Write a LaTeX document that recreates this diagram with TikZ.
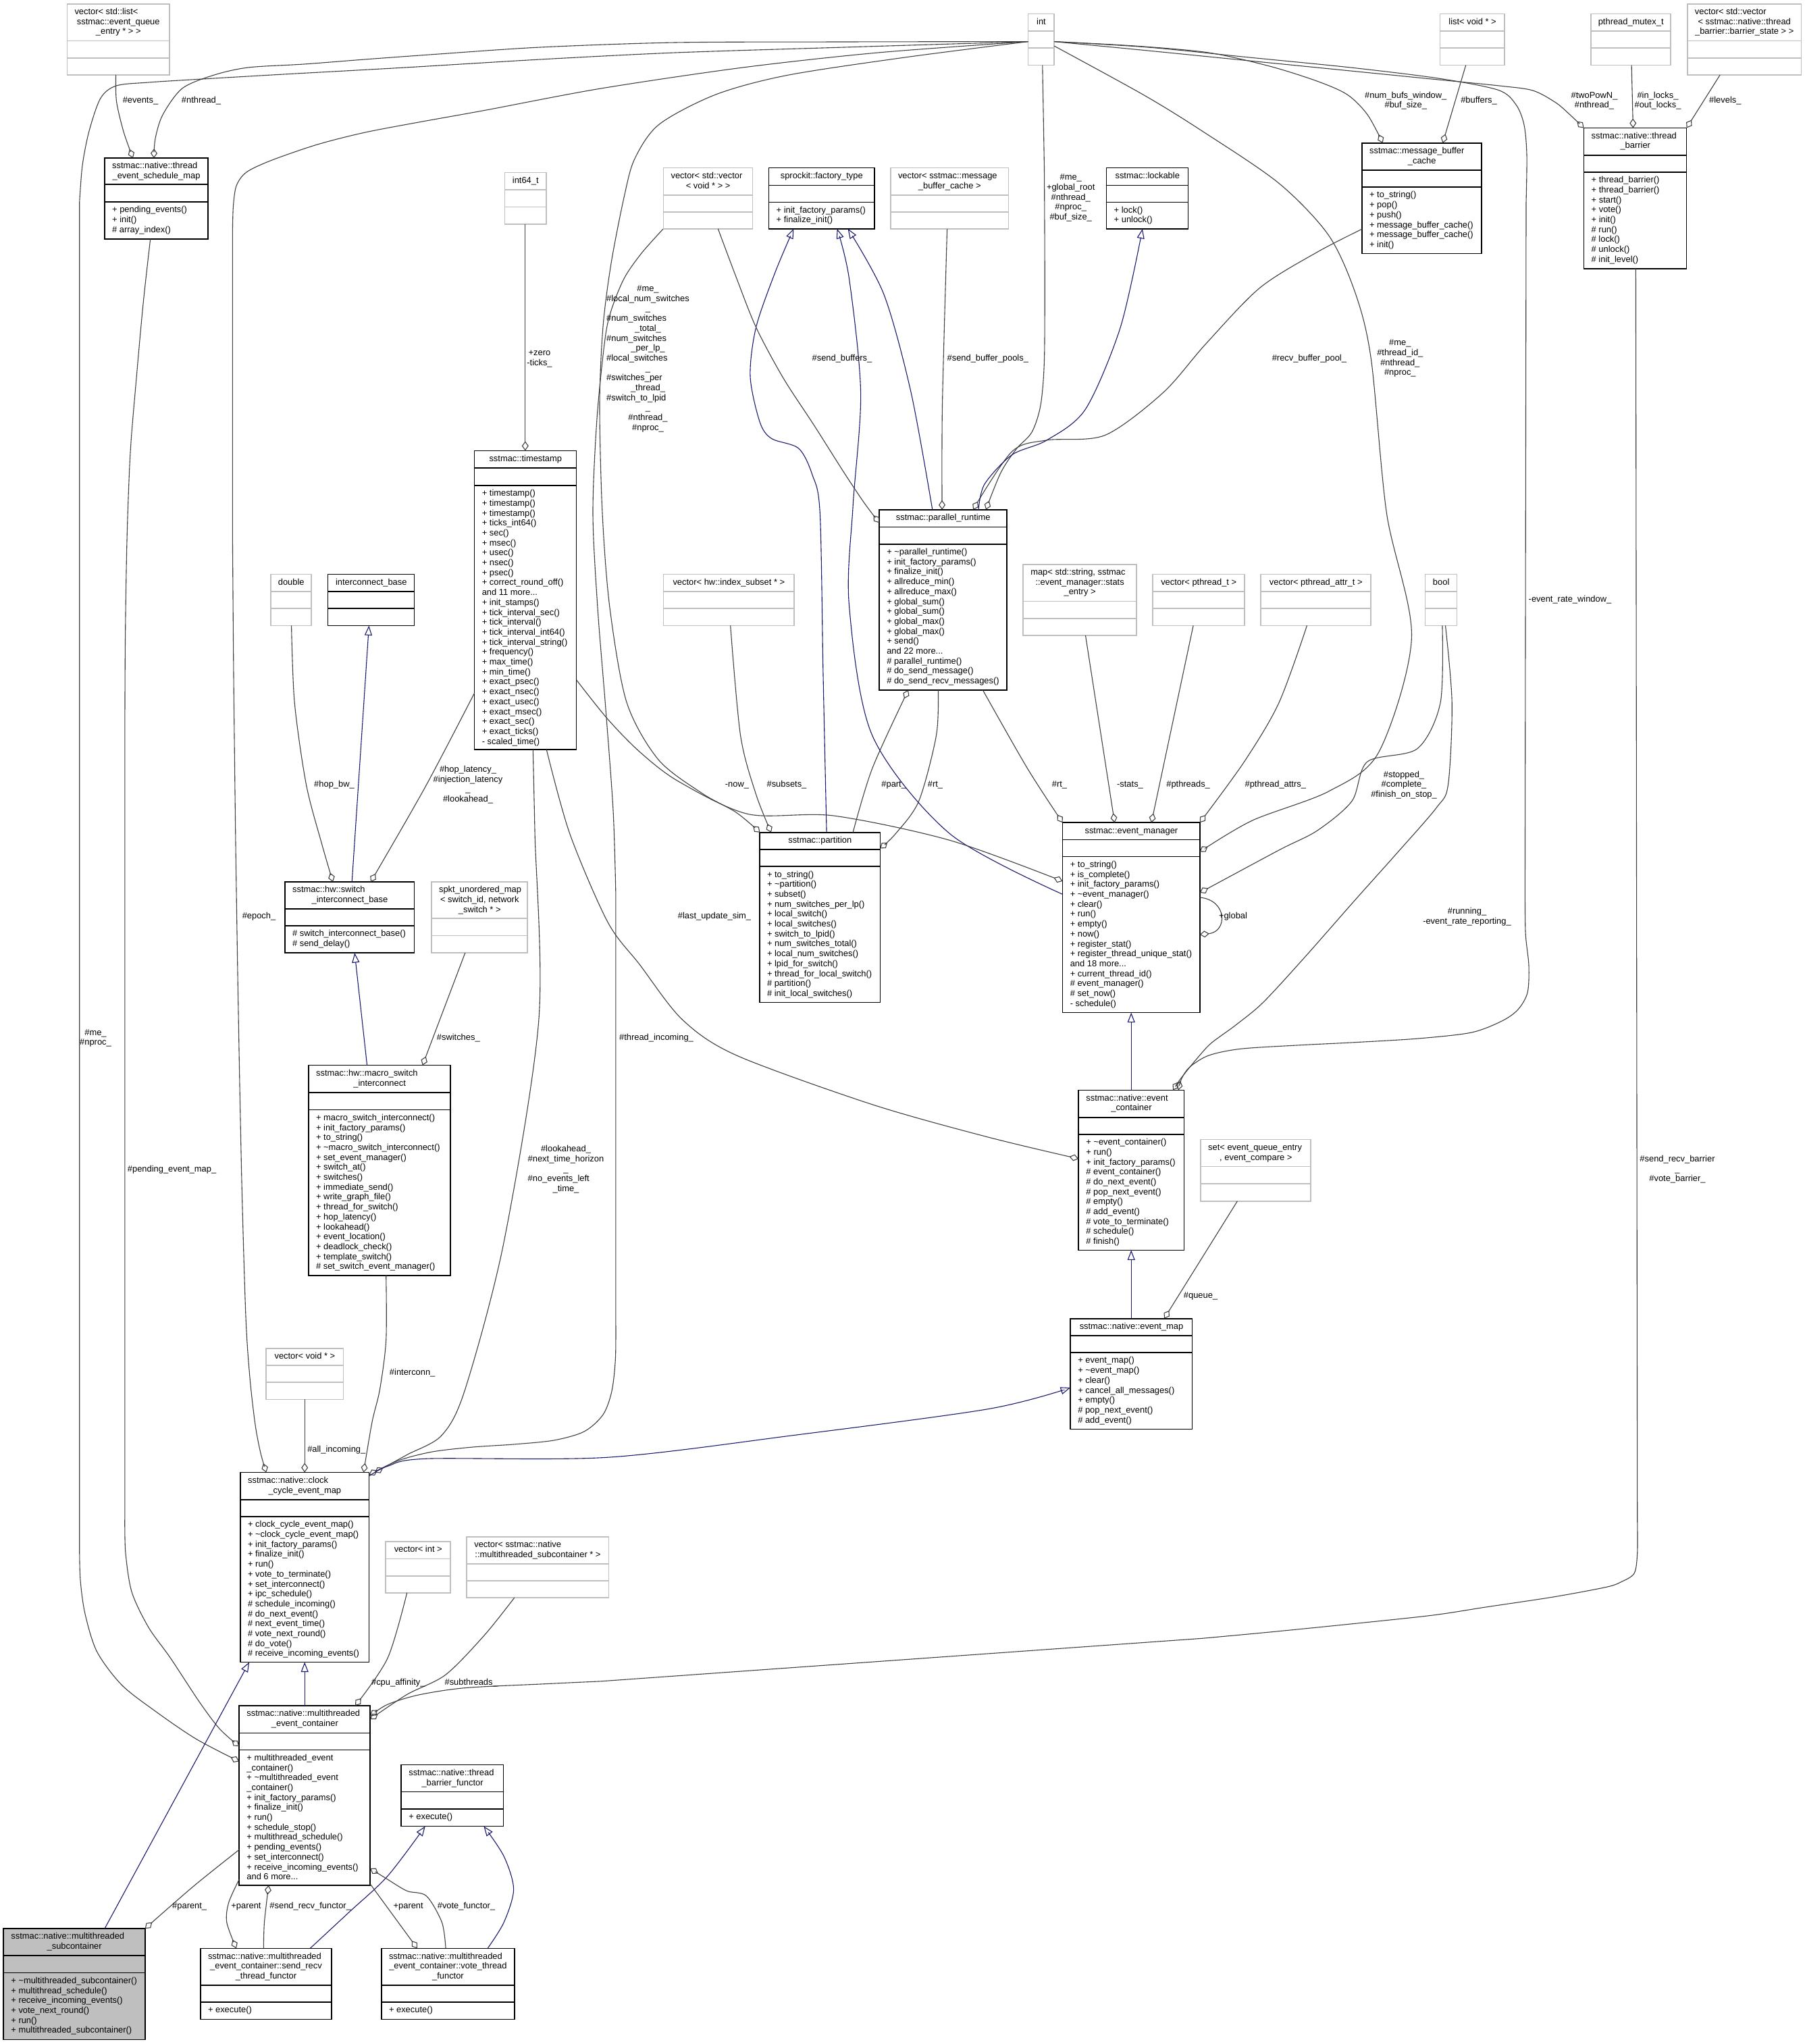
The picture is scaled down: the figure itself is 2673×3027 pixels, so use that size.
\documentclass[tikz,border=0pt]{standalone}
\usepackage{fontspec}
\setmainfont{Liberation Sans}
\usetikzlibrary{arrows.meta,fit}
\definecolor{egray}{RGB}{64,64,64}
\definecolor{mblue}{RGB}{25,25,112}
\definecolor{bgray}{RGB}{191,191,191}
\newcommand\ttlL[1]{\makebox[\clsW pt][l]{#1}}
\newcommand\ttlC[1]{\makebox[\clsW pt][c]{#1}}
\newcommand\lblL[1]{\multicolumn{1}{@{}l@{}}{#1}}
\newcommand\tldx{\textasciitilde}
\newcommand\umlcls[9]{%
  \node[#2, fit={(#3,#4) (#5,#8)}] (#1) {};
  \draw[#2, fill=none] (#3,#6) -- (#5,#6) (#3,#7) -- (#5,#7);
  \pgfmathsetmacro\clsW{#5-#3-22}%
  \node[txt, anchor=north west] (#1-t) at (#3+11,#4+5.3) {\begin{tabular}{@{}c@{}}#9\end{tabular}};%
}
\newcommand\umlmth[4]{\node[txt, anchor=north west] (#1-m) at (#2+11,#3+5.3) {\begin{tabular}{@{}l@{}}#4\end{tabular}};}
\newcommand\elbl[3]{\node[txt] (#1) at (#2) {\begin{tabular}{@{}c@{}}#3\end{tabular}};}
\tikzset{
  txt/.style={inner sep=0pt, font=\fontsize{12.9}{14.7}\selectfont},
  blk/.style={draw=black, line width=1.6pt, fill=white, inner sep=0pt},
  gry/.style={draw=bgray, line width=1.6pt, fill=white, inner sep=0pt},
  hil/.style={draw=black, line width=1.6pt, fill=bgray, inner sep=0pt},
  agg/.style={draw=egray, line width=1.1pt, -{Diamond[open, length=14pt, width=10pt]}},
  inh/.style={draw=mblue, line width=1.1pt, -{Triangle[open, length=14.5pt, width=11pt]}},
}
\begin{document}
\begin{tikzpicture}[x=1pt,y=-1pt]
\fill[white] (0,0) rectangle (2673,3027);
\useasboundingbox (0,0) rectangle (2673,3027);

% ---------------- boxes ----------------
\umlcls{veclist}{gry}{99.3}{5.8}{250.8}{60.6}{85.8}{111.0}{\ttlL{vector< std::list<}\\sstmac::event\_queue\\\_entry * > >}
\umlcls{tesm}{blk}{155.0}{234.1}{307.7}{272.9}{299.1}{353.8}{\ttlL{sstmac::native::thread}\\\_event\_schedule\_map}
\umlmth{tesm}{155.0}{299.1}{+ pending\_events()\\+ init()\\\# array\_index()}
\umlcls{int64}{gry}{747.4}{255.4}{808.8}{281.1}{306.3}{332.0}{\ttlC{int64\_t}}
\umlcls{tstamp}{blk}{702.6}{667.4}{853.6}{693.1}{718.8}{1110.1}{\ttlC{sstmac::timestamp}}
\umlmth{tstamp}{702.6}{718.8}{+ timestamp()\\+ timestamp()\\+ timestamp()\\+ ticks\_int64()\\+ sec()\\+ msec()\\+ usec()\\+ nsec()\\+ psec()\\+ correct\_round\_off()\\and 11 more...\\+ init\_stamps()\\+ tick\_interval\_sec()\\+ tick\_interval()\\+ tick\_interval\_int64()\\+ tick\_interval\_string()\\+ frequency()\\+ max\_time()\\+ min\_time()\\+ exact\_psec()\\+ exact\_nsec()\\+ exact\_usec()\\+ exact\_msec()\\+ exact\_sec()\\+ exact\_ticks()\\- scaled\_time()}
\umlcls{int}{gry}{1522.5}{20.4}{1561.0}{46.0}{71.3}{96.5}{\ttlC{int}}
\umlcls{vecvv}{gry}{982.4}{248.6}{1114.4}{288.9}{314.1}{338.8}{\ttlL{vector< std::vector}\\< void * > >}
\umlcls{factory}{blk}{1138.5}{248.6}{1294.7}{274.3}{299.5}{338.8}{\ttlC{sprockit::factory\_type}}
\umlmth{factory}{1138.5}{299.5}{+ init\_factory\_params()\\+ finalize\_init()}
\umlcls{vecmbc}{gry}{1318.8}{248.6}{1493.3}{288.9}{314.1}{338.8}{\ttlL{vector< sstmac::message}\\\_buffer\_cache >}
\umlcls{lockable}{blk}{1638.5}{248.6}{1759.6}{274.3}{299.5}{338.8}{\ttlC{sstmac::lockable}}
\umlmth{lockable}{1638.5}{299.5}{+ lock()\\+ unlock()}
\umlcls{prt}{blk}{1302.1}{754.8}{1491.0}{780.5}{805.7}{1021.9}{\ttlC{sstmac::parallel\_runtime}}
\umlmth{prt}{1302.1}{805.7}{+ \tldx parallel\_runtime()\\+ init\_factory\_params()\\+ finalize\_init()\\+ allreduce\_min()\\+ allreduce\_max()\\+ global\_sum()\\+ global\_sum()\\+ global\_max()\\+ global\_max()\\+ send()\\and 22 more...\\\# parallel\_runtime()\\\# do\_send\_message()\\\# do\_send\_recv\_messages()}
\umlcls{listvoid}{gry}{2132.5}{20.4}{2228.2}{46.0}{71.3}{96.5}{\ttlC{list< void * >}}
\umlcls{pmutex}{gry}{2355.8}{20.4}{2474.2}{46.0}{71.3}{96.5}{\ttlC{pthread\_mutex\_t}}
\umlcls{vecbs}{gry}{2498.7}{5.8}{2667.3}{60.6}{85.8}{111.0}{\ttlL{vector< std::vector}\\< sstmac::native::thread\\\_barrier::barrier\_state > >}
\umlcls{mbc}{blk}{2016.9}{211.8}{2194.0}{252.0}{277.2}{375.6}{\ttlL{sstmac::message\_buffer}\\\_cache}
\umlmth{mbc}{2016.9}{277.2}{+ to\_string()\\+ pop()\\+ push()\\+ message\_buffer\_cache()\\+ message\_buffer\_cache()\\+ init()}
\umlcls{tbar}{blk}{2345.5}{189.5}{2497.6}{229.7}{255.0}{397.9}{\ttlL{sstmac::native::thread}\\\_barrier}
\umlmth{tbar}{2345.5}{255.0}{+ thread\_barrier()\\+ thread\_barrier()\\+ start()\\+ vote()\\+ init()\\\# run()\\\# lock()\\\# unlock()\\\# init\_level()}
\umlcls{double}{gry}{401.2}{850.3}{460.9}{876.0}{901.2}{926.4}{\ttlC{double}}
\umlcls{icb}{blk}{485.6}{850.3}{613.6}{876.0}{901.2}{926.4}{\ttlC{interconnect\_base}}
\umlcls{sib}{blk}{421.9}{1306.0}{613.6}{1345.7}{1370.9}{1411.1}{\ttlL{sstmac::hw::switch}\\\_interconnect\_base}
\umlmth{sib}{421.9}{1370.9}{\# switch\_interconnect\_base()\\\# send\_delay()}
\umlcls{spkt}{gry}{638.9}{1306.0}{781.2}{1360.2}{1385.4}{1411.1}{\ttlL{spkt\_unordered\_map}\\< switch\_id, network\\\_switch * >}
\umlcls{vecidx}{gry}{982.4}{850.3}{1175.9}{876.0}{901.2}{926.4}{\ttlC{vector< hw::index\_subset * >}}
\umlcls{mapst}{gry}{1515.1}{835.8}{1682.7}{890.6}{915.8}{941.0}{\ttlL{map< std::string, sstmac}\\::event\_manager::stats\\\_entry >}
\umlcls{vecpt}{gry}{1706.8}{850.3}{1843.2}{876.0}{901.2}{926.4}{\ttlC{vector< pthread\_t >}}
\umlcls{part}{blk}{1124.8}{1232.8}{1303.3}{1258.0}{1283.2}{1484.3}{\ttlC{sstmac::partition}}
\umlmth{part}{1124.8}{1283.2}{+ to\_string()\\+ \tldx partition()\\+ subset()\\+ num\_switches\_per\_lp()\\+ local\_switch()\\+ local\_switches()\\+ switch\_to\_lpid()\\+ num\_switches\_total()\\+ local\_num\_switches()\\+ lpid\_for\_switch()\\+ thread\_for\_local\_switch()\\\# partition()\\\# init\_local\_switches()}
\umlcls{evm}{blk}{1573.6}{1218.2}{1776.8}{1243.4}{1268.6}{1499.6}{\ttlC{sstmac::event\_manager}}
\umlmth{evm}{1573.6}{1268.6}{+ to\_string()\\+ is\_complete()\\+ init\_factory\_params()\\+ \tldx event\_manager()\\+ clear()\\+ run()\\+ empty()\\+ now()\\+ register\_stat()\\+ register\_thread\_unique\_stat()\\and 18 more...\\+ current\_thread\_id()\\\# event\_manager()\\\# set\_now()\\- schedule()}
\umlcls{vecpa}{gry}{1867.1}{850.3}{2030.0}{876.0}{901.2}{926.4}{\ttlC{vector< pthread\_attr\_t >}}
\umlcls{bool}{gry}{2110.3}{850.3}{2157.6}{876.0}{901.2}{926.4}{\ttlC{bool}}
\umlcls{msi}{blk}{456.9}{1577.6}{667.0}{1617.8}{1643.5}{1888.7}{\ttlL{sstmac::hw::macro\_switch}\\\_interconnect}
\umlmth{msi}{456.9}{1643.5}{+ macro\_switch\_interconnect()\\+ init\_factory\_params()\\+ to\_string()\\+ \tldx macro\_switch\_interconnect()\\+ set\_event\_manager()\\+ switch\_at()\\+ switches()\\+ immediate\_send()\\+ write\_graph\_file()\\+ thread\_for\_switch()\\+ hop\_latency()\\+ lookahead()\\+ event\_location()\\+ deadlock\_check()\\+ template\_switch()\\\# set\_switch\_event\_manager()}
\umlcls{vecvoid}{gry}{393.8}{1996.8}{508.6}{2022.0}{2047.2}{2072.4}{\ttlC{vector< void * >}}
\umlcls{ccem}{blk}{355.9}{2180.5}{546.4}{2220.8}{2246.0}{2461.5}{\ttlL{sstmac::native::clock}\\\_cycle\_event\_map}
\umlmth{ccem}{355.9}{2246.0}{+ clock\_cycle\_event\_map()\\+ \tldx clock\_cycle\_event\_map()\\+ init\_factory\_params()\\+ finalize\_init()\\+ run()\\+ vote\_to\_terminate()\\+ set\_interconnect()\\+ ipc\_schedule()\\\# schedule\_incoming()\\\# do\_next\_event()\\\# next\_event\_time()\\\# vote\_next\_round()\\\# do\_vote()\\\# receive\_incoming\_events()}
\umlcls{evc}{blk}{1597.2}{1614.4}{1753.3}{1655.1}{1679.8}{1851.4}{\ttlL{sstmac::native::event}\\\_container}
\umlmth{evc}{1597.2}{1679.8}{+ \tldx event\_container()\\+ run()\\+ init\_factory\_params()\\\# event\_container()\\\# do\_next\_event()\\\# pop\_next\_event()\\\# empty()\\\# add\_event()\\\# vote\_to\_terminate()\\\# schedule()\\\# finish()}
\umlcls{evmap}{blk}{1585.1}{1952.7}{1765.4}{1977.9}{2003.1}{2116.5}{\ttlC{sstmac::native::event\_map}}
\umlmth{evmap}{1585.1}{2003.1}{+ event\_map()\\+ \tldx event\_map()\\+ clear()\\+ cancel\_all\_messages()\\+ empty()\\\# pop\_next\_event()\\\# add\_event()}
\umlcls{seteqe}{gry}{1778.0}{1687.6}{1941.2}{1727.3}{1753.0}{1778.7}{\ttlL{set< event\_queue\_entry}\\*, event\_compare >}
\umlcls{vecint}{gry}{571.1}{2283.0}{667.0}{2308.4}{2333.8}{2358.8}{\ttlC{vector< int >}}
\umlcls{vecsub}{gry}{691.1}{2276.1}{901.5}{2316.2}{2341.2}{2366.1}{\ttlL{vector< sstmac::native}\\::multithreaded\_subcontainer * >}
\umlcls{mtec}{blk}{354.2}{2526.0}{548.2}{2566.6}{2591.5}{2792.0}{\ttlL{sstmac::native::multithreaded}\\\_event\_container}
\umlmth{mtec}{354.2}{2591.5}{+ multithreaded\_event\\\_container()\\+ \tldx multithreaded\_event\\\_container()\\+ init\_factory\_params()\\+ finalize\_init()\\+ run()\\+ schedule\_stop()\\+ multithread\_schedule()\\+ pending\_events()\\+ set\_interconnect()\\+ receive\_incoming\_events()\\and 6 more...}
\umlcls{tbf}{blk}{594.1}{2613.5}{745.6}{2653.6}{2679.1}{2704.5}{\ttlL{sstmac::native::thread}\\\_barrier\_functor}
\umlmth{tbf}{594.1}{2679.1}{+ execute()}
\umlcls{subc}{hil}{5.2}{2856.1}{214.7}{2896.2}{2921.6}{3020.4}{\ttlL{sstmac::native::multithreaded}\\\_subcontainer}
\umlmth{subc}{5.2}{2921.6}{+ \tldx multithreaded\_subcontainer()\\+ multithread\_schedule()\\+ receive\_incoming\_events()\\+ vote\_next\_round()\\+ run()\\+ multithreaded\_subcontainer()}
\umlcls{srtf}{blk}{296.8}{2885.4}{490.8}{2939.7}{2965.1}{2990.6}{\ttlL{sstmac::native::multithreaded}\\\_event\_container::send\_recv\\\_thread\_functor}
\umlmth{srtf}{296.8}{2965.1}{+ execute()}
\umlcls{vtf}{blk}{564.8}{2885.4}{761.7}{2939.7}{2965.1}{2990.6}{\ttlL{sstmac::native::multithreaded}\\\_event\_container::vote\_thread\\\_functor}
\umlmth{vtf}{564.8}{2965.1}{+ execute()}

% ---------------- edges ----------------
\draw[agg] plot[smooth] coordinates {(171.6,111.0) (172.5,150) (183,195) (196.9,234.1)};
\draw[agg] plot[smooth] coordinates {(1522.5,61.6) (1250,62) (1000,63) (800,70) (650,80) (540,88) (450,95) (367.4,100) (315.7,111.5) (269.8,131) (241,170) (230,205) (227.9,234.1)};
\draw[agg] plot[smooth] coordinates {(1522.5,61.6) (1250,70) (1000,78) (800,88) (600,100) (420,110) (300,117) (220,122) (172.2,127) (149,145.4) (132,194) (122,245) (117.7,300)}
  -- plot[smooth] coordinates {(117.7,2290) (119,2340) (126,2390) (143.5,2445.8) (180,2495) (229.6,2533.8) (290,2575) (354.2,2608.5)};
\draw[agg] plot[smooth] coordinates {(1522.5,61.6) (1300,78) (1100,100) (890,131) (720,163) (620,181) (539.6,196.3) (470,214) (401.8,237.5) (365,255) (350.1,275) (345.5,305) (344.4,340)}
  -- plot[smooth] coordinates {(344.4,800) (346,1000) (349,1250) (353,1500) (358,1750) (364,1950) (370,2040) (378,2110) (386,2152) (394.3,2180.5)};
\draw[agg] plot[smooth] coordinates {(222.7,353.8) (212,450) (202,560) (193,670) (188,800) (185.5,950) (184.8,1100)}
  -- plot[smooth] coordinates {(184.8,2250) (186,2300) (195.2,2357.8) (220,2410) (252.6,2455.6) (295,2520) (325,2560) (354.2,2586)};
\draw[agg] plot[smooth] coordinates {(1522.5,61.6) (1340,85) (1165.5,111.5) (1060,140) (976.1,184.2) (940,235) (924.4,290.8) (905,390) (892.9,484.7) (888,600) (892,760) (903,900) (928,1040) (975,1125) (1040,1175) (1090,1203) (1125.5,1232.8)};
\draw[agg] plot[smooth] coordinates {(981.8,339.3) (950,375) (924.4,412) (905,460) (895.7,504) (884,620) (878,760) (885,900) (897,1050) (908,1200) (911.8,1320)}
  -- plot[smooth] coordinates {(911.8,1940) (911.5,2010) (906,2060) (893,2095) (865,2120) (820,2133) (760,2139) (700,2143) (640,2150) (590,2163) (546.4,2184)};
\draw[agg] (1543.8,96.5) -- plot[smooth] coordinates {(1546.5,250) (1547.2,400) (1546.5,533) (1541,600) (1528,640) (1505,665) (1482,700) (1460,754.8)};
\draw[agg] plot[smooth] coordinates {(1561,61.6) (1680,68) (1790,78) (1880,98) (1950,120) (1995,140) (2024.9,169.6) (2047.7,211.8)};
\draw[agg] (2170.7,96.5) -- (2136.5,211.8);
\draw[agg] plot[smooth] coordinates {(1561,61.6) (1700,75) (1850,90) (2000,105) (2130,118) (2220,127) (2269.8,134) (2303.9,152) (2325,170) (2345.5,189.5)};
\draw[agg] (2416.1,96.5) -- (2418.4,189.5);
\draw[agg] (2547.1,111.0) -- (2497.6,189.5);
\draw[agg] plot[smooth] coordinates {(1561,68) (1693.6,140.6) (1780,193.9) (1893.9,271.4) (1967.9,349) (2007.8,436.2) (2030.6,533.2) (2053.4,760) (2090.4,943.9) (2042,1113.5) (1968,1171.7) (1854,1215.3) (1776.8,1261.4)};
\draw[agg] plot[smooth] coordinates {(2016.9,339.3) (1950.9,373.2) (1865.4,426.5) (1785,510) (1722.3,581.6) (1636.2,644.6) (1550.1,651.9) (1498.4,668.9) (1441,754.8)};
\draw[agg] plot[smooth] coordinates {(1561,61.6) (1700,70) (1850,85) (2000,100) (2130,116) (2218.5,133.3) (2245,155) (2257,185) (2261,230) (2260,300)}
  -- plot[smooth] coordinates {(2258.4,1300) (2259,1380) (2264,1430) (2262,1470) (2248,1495) (2224.2,1512) (2178.7,1529.1) (2100,1538) (2007.8,1543.6) (1920,1548) (1837,1553.3) (1790,1563) (1762,1580) (1750,1597) (1745,1614.4)};
\draw[agg] (2422.4,397.9) -- plot[smooth] coordinates {(2424.7,2250) (2424.7,2300) (2420,2330) (2400,2343) (2378,2350.5) (2300,2365) (2200,2380) (2121.7,2392) (2000,2405) (1880,2417) (1780,2426.3)}
  -- plot[smooth] coordinates {(890,2489.8) (800,2494) (688.8,2499.6) (620,2510) (574,2524.1) (548.2,2541)};
\draw[inh] plot[smooth] coordinates {(1224.1,1232.8) (1219,1000) (1214.3,760) (1202.8,702.8) (1182.7,664) (1142.6,649.5) (1125.3,625.3) (1111,557.5) (1119.6,484.7) (1148.3,402.3) (1175.3,338.8)};
\draw[inh] plot[smooth] coordinates {(1573.6,1324.4) (1406.6,1234.7) (1291.8,1089.3) (1257.4,895.4) (1263.1,750) (1274.6,581.6) (1257.4,412) (1239.6,338.8)};
\draw[inh] plot[smooth] coordinates {(1380.8,754.8) (1349.2,581.6) (1309,436.2) (1255.6,338.8)};
\draw[inh] plot[smooth] coordinates {(1449,754.8) (1458,717) (1498.4,673.7) (1550.1,651.9) (1607.5,605.9) (1659.2,484.7) (1691.9,338.8)};
\draw[agg] plot[smooth] coordinates {(1063.3,338.8) (1090,410) (1119.6,484.7) (1160,560) (1205.7,630.1) (1250,700) (1280,745) (1302.1,774.2)};
\draw[agg] plot[smooth] coordinates {(1402.6,338.8) (1395.5,600) (1395.1,754.8)};
\draw[agg] (777.8,332.0) -- (777.8,667.4);
\draw[agg] plot[smooth] coordinates {(431.6,926.4) (436.2,1040.8) (453.5,1162) (476.4,1249.2) (493,1306)};
\draw[inh] (521.2,1306) -- (546.4,926.4);
\draw[agg] plot[smooth] coordinates {(702.6,1026.3) (630,1165) (549,1306)};
\draw[agg] (688.8,1411.1) -- (625.7,1577.6);
\draw[inh] (543.6,1577.6) -- (525.2,1411.1);
\draw[agg] plot[smooth] coordinates {(571.7,1888.7) (571.7,1984.7) (562.5,2057.4) (551,2105.9) (538.4,2180.5)};
\draw[agg] (451.2,2072.4) -- (451.2,2180.5);
\draw[agg] plot[smooth] coordinates {(789.3,1110.1) (792.1,1234.7) (797.9,1510) (746.2,1839.3) (688.8,2057.4) (654.4,2125.3) (602.7,2154.4) (555,2180.5)};
\draw[inh] plot[smooth] coordinates {(546.4,2186) (574,2171.3) (631.4,2160.2) (900,2158.2) (1177,2125.3) (1464,2086.5) (1585.1,2055)};
\draw[inh] (1675.2,1952.7) -- (1675.2,1851.4);
\draw[inh] (1675.2,1614.4) -- (1675.2,1499.6);
\draw[agg] (1832.4,1778.7) -- (1724,1952.7);
\draw[agg] plot[smooth] coordinates {(2135.9,926.4) (2133,1040.8) (2098.9,1108.7) (2024.9,1128) (2002.1,1186.2) (1950.9,1229.9) (1893.9,1259) (1776.8,1322)};
\draw[agg] plot[smooth] coordinates {(2140.5,926.4) (2150.2,1040.8) (2144.5,1162) (2127.4,1195.9) (2070,1262) (2007.8,1331.6) (1930,1420) (1870,1485) (1830,1518) (1808,1534) (1790,1548) (1768,1573) (1748,1598) (1737,1614.4)};
\draw[agg] plot[smooth] coordinates {(1935.5,926.4) (1893.9,1040.8) (1842.6,1128) (1776.8,1218.2)};
\draw[agg] (1767.1,926.4) -- (1705.1,1218.2);
\draw[agg] (1607.5,941.0) -- (1650.6,1218.2);
\draw[agg] plot[smooth] coordinates {(1455.4,1021.9) (1521.4,1137.8) (1573.6,1218.2)};
\draw[agg] plot[smooth] coordinates {(1389.4,1021.9) (1386.5,1089.3) (1360.7,1186.2) (1326.2,1234.7) (1303.3,1256.5)};
\draw[agg] plot[smooth] coordinates {(1263.1,1232.8) (1291.8,1137.8) (1345,1021.9)};
\draw[agg] plot[smooth] coordinates {(1081.7,926.4) (1096.6,1089.3) (1119.6,1176.5) (1142,1232.8)};
\draw[agg] plot[smooth] coordinates {(853.6,1006.9) (900,1065) (947.4,1113.5) (1004.8,1157.2) (1108,1205.6) (1234.4,1208) (1406.6,1244.4) (1573.6,1305)};
\draw[agg] plot[smooth] coordinates {(809.3,1110.1) (843.8,1234.7) (900,1365.6) (947.4,1428.6) (1010.5,1510) (1090.9,1563) (1291.8,1635.7) (1464,1684.2) (1597.2,1716)};
\draw[inh] plot[smooth] coordinates {(459.2,2885.4) (516.6,2832.1) (574,2778.3) (629.7,2704.5)};
\draw[inh] plot[smooth] coordinates {(722.1,2885.4) (746.2,2846.8) (760.6,2797.9) (746.2,2749) (716.4,2704.5)};
\draw[inh] (451.2,2526.0) -- (451.2,2461.5);
\draw[inh] (155.0,2856.1) -- (369.1,2461.5);
\draw[agg] plot[smooth] coordinates {(354.2,2739.2) (287,2793) (214.7,2856.1)};
\draw[agg] plot[smooth] coordinates {(354.2,2783.2) (338.7,2817.5) (335.8,2846.8) (350,2885.4)};
\draw[agg] plot[smooth] coordinates {(390.3,2885.4) (391.5,2846.8) (397.8,2792.0)};
\draw[agg] (548.2,2790) -- (618,2885.4);
\draw[agg] plot[smooth] coordinates {(660.1,2885.4) (654.4,2846.8) (631.4,2807.7) (602.7,2800.3) (574,2783.2) (548.2,2767)};
\draw[agg] plot[smooth] coordinates {(602.7,2358.8) (574,2455.6) (526,2526)};
\draw[agg] plot[smooth] coordinates {(761.7,2366.1) (717.5,2421.4) (660.1,2480) (602.7,2509.4) (548.2,2546)};
\draw[agg] (1776.8,1329) .. controls (1818,1333) and (1818,1380) .. (1776.8,1384);

% ---------------- labels ----------------
\elbl{l1}{208,149.3}{\#events\_}
\elbl{l2}{298,149.3}{\#nthread\_}
\elbl{l3}{141.5,1537.5}{\#me\_\\\#nproc\_}
\elbl{l4}{383.5,1357.3}{\#epoch\_}
\elbl{l5}{254.6,1732.7}{\#pending\_event\_map\_}
\elbl{l6}{959.5,531.5}{\#me\_\\\lblL{\#local\_num\_switches}\\\_\\\lblL{\#num\_switches}\\\_total\_\\\lblL{\#num\_switches}\\\_per\_lp\_\\\lblL{\#local\_switches}\\\_\\\lblL{\#switches\_per}\\\_thread\_\\\lblL{\#switch\_to\_lpid}\\\_\\\#nthread\_\\\#nproc\_}
\elbl{l7}{972,1537.3}{\#thread\_incoming\_}
\elbl{l8}{1585.7,293.2}{\#me\_\\+global\_root\\\#nthread\_\\\#nproc\_\\\#buf\_size\_}
\elbl{l9}{2081.8,149.5}{\#num\_bufs\_window\_\\\#buf\_size\_}
\elbl{l10}{2190,149.3}{\#buffers\_}
\elbl{l11}{2361,149.5}{\#twoPowN\_\\\#nthread\_}
\elbl{l12}{2455,149.5}{\#in\_locks\_\\\#out\_locks\_}
\elbl{l13}{2554.8,149.3}{\#levels\_}
\elbl{l14}{2073.3,531}{\#me\_\\\#thread\_id\_\\\#nthread\_\\\#nproc\_}
\elbl{l15}{1938.9,531.7}{\#recv\_buffer\_pool\_}
\elbl{l16}{2325,888.1}{-event\_rate\_window\_}
\elbl{l17}{2484,1732.2}{\lblL{\#send\_recv\_barrier}\\\_\\\#vote\_barrier\_}
\elbl{l22}{1247,531.7}{\#send\_buffers\_}
\elbl{l23}{1462.8,531.7}{\#send\_buffer\_pools\_}
\elbl{l24}{799,531.2}{+zero\\-ticks\_}
\elbl{l25}{495,1162.5}{\#hop\_bw\_}
\elbl{l27}{693,1162.5}{\#hop\_latency\_\\\#injection\_latency\\\_\\\#lookahead\_}
\elbl{l28}{678.8,1537.3}{\#switches\_}
\elbl{l30}{610.7,2033.7}{\#interconn\_}
\elbl{l31}{498.3,2147.6}{\#all\_incoming\_}
\elbl{l32}{838,1732.2}{\#lookahead\_\\\lblL{\#next\_time\_horizon}\\\_\\\lblL{\#no\_events\_left}\\\_time\_}
\elbl{l36}{1778,1919.7}{\#queue\_}
\elbl{l37}{2079,1162.8}{\#stopped\_\\\#complete\_\\\#finish\_on\_stop\_}
\elbl{l38}{2172.5,1358}{\#running\_\\-event\_rate\_reporting\_}
\elbl{l39}{1888.8,1162.5}{\#pthread\_attrs\_}
\elbl{l40}{1759.6,1162.5}{\#pthreads\_}
\elbl{l41}{1673.5,1162.5}{-stats\_}
\elbl{l42}{1569,1162.5}{\#rt\_}
\elbl{l43}{1385,1162.5}{\#rt\_}
\elbl{l44}{1323.7,1162.5}{\#part\_}
\elbl{l45}{1165,1162.5}{\#subsets\_}
\elbl{l46}{1091.5,1162.5}{-now\_}
\elbl{l47}{1058,1357.3}{\#last\_update\_sim\_}
\elbl{l52}{280.7,2823.3}{\#parent\_}
\elbl{l53}{364.5,2823.3}{+parent}
\elbl{l54}{459.7,2823.3}{\#send\_recv\_functor\_}
\elbl{l55}{604.7,2823.3}{+parent}
\elbl{l56}{690.5,2823.3}{\#vote\_functor\_}
\elbl{l57}{589.8,2492.8}{\#cpu\_affinity\_}
\elbl{l58}{697.7,2492.8}{\#subthreads\_}
\elbl{l59}{1826,1357.3}{+global}
\end{tikzpicture}
\end{document}
